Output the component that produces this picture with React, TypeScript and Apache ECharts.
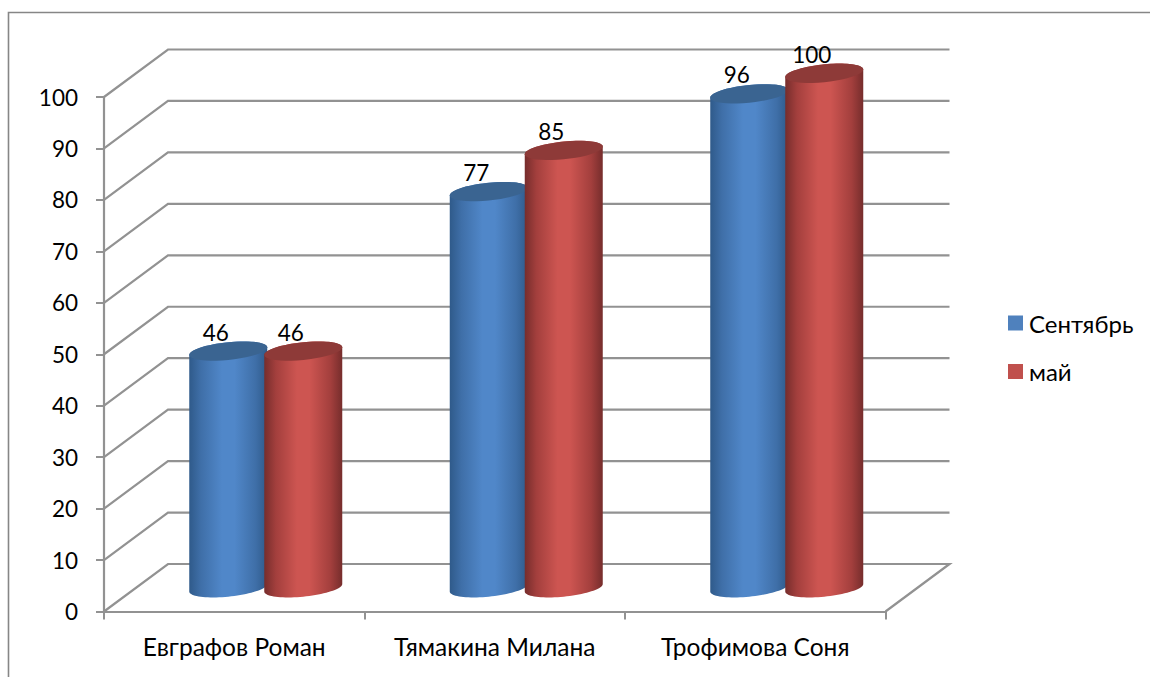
import React, { useEffect, useRef } from "react";
import * as echarts from "echarts";

const categories = ["Евграфов Роман", "Тямакина Милана", "Трофимова Соня"];
const september = [46, 77, 96];
const may = [46, 85, 100];
const gridValues = [0, 10, 20, 30, 40, 50, 60, 70, 80, 90, 100];

const FONT = "Lato, Carlito, 'Open Sans', sans-serif";
const DEPTH_X = 64;
const DEPTH_Y = -47.5;
const GRAY = "#929292";
const R = 39;
const SHEAR = 3.8;
const MINOR = 8.9;

function ellipsePts(cx: number, cy: number, from: number, to: number) {
  const pts: number[][] = [];
  const n = 40;
  for (let i = 0; i <= n; i++) {
    const t = from + ((to - from) * i) / n;
    pts.push([cx + R * Math.cos(t), cy - SHEAR * Math.cos(t) + MINOR * Math.sin(t)]);
  }
  return pts;
}

function cylinder(offset: number, stops: string[], topColor: string) {
  return (params: any, api: any) => {
    const cat = api.value(0);
    const v = api.value(1);
    const top = api.coord([cat, v]);
    const base = api.coord([cat, 0]);
    const cx = top[0] + DEPTH_X / 2 + offset;
    const topY = top[1] + DEPTH_Y / 2;
    const baseY = base[1] + DEPTH_Y / 2;
    const body = [
      ...ellipsePts(cx, baseY, Math.PI, 0),
      ...ellipsePts(cx, topY, 0, -Math.PI),
    ];
    return {
      type: "group",
      children: [
        {
          type: "polygon",
          shape: { points: body },
          style: {
            fill: new echarts.graphic.LinearGradient(0, 0, 1, 0, [
              { offset: 0, color: stops[0] },
              { offset: 0.15, color: stops[1] },
              { offset: 0.42, color: stops[2] },
              { offset: 0.58, color: stops[2] },
              { offset: 0.85, color: stops[1] },
              { offset: 1, color: stops[0] },
            ]),
          },
        },
        {
          type: "polygon",
          shape: { points: ellipsePts(cx, topY, 0, Math.PI * 2) },
          style: { fill: topColor },
        },
        {
          type: "text",
          z2: 50,
          style: {
            text: String(v),
            x: cx - 12.5,
            y: topY - 19,
            fill: "#000",
            font: `22.5px ${FONT}`,
            align: "center",
            verticalAlign: "middle",
          },
        },
      ],
    };
  };
}

function gridLine(params: any, api: any) {
  const v = api.value(1);
  const cs = params.coordSys;
  const y = api.coord([0, v])[1];
  const pts = [
    [cs.x, y],
    [cs.x + DEPTH_X, y + DEPTH_Y],
    [cs.x + cs.width + DEPTH_X, y + DEPTH_Y],
  ];
  if (v === 0) pts.push([cs.x + cs.width, y]);
  return {
    type: "polyline",
    shape: { points: pts },
    style: { stroke: GRAY, lineWidth: 2.2, fill: "none" },
  };
}

export default function App() {
  const ref = useRef<HTMLDivElement>(null);
  useEffect(() => {
    document.body.style.margin = "0";
    const chart = echarts.init(ref.current!, undefined, { renderer: "svg" });
    chart.setOption({
      animation: false,
      backgroundColor: "#fff",
      textStyle: { fontFamily: FONT },
      grid: { left: 104, top: 97, width: 781.5, height: 514.5 },
      xAxis: {
        type: "category",
        data: categories,
        axisLine: { lineStyle: { color: GRAY, width: 2.2 } },
        axisTick: { show: true, interval: 0, length: 8, lineStyle: { color: GRAY, width: 2 } },
        axisLabel: { color: "#000", fontSize: 24.5, fontFamily: FONT, margin: 22, interval: 0, hideOverlap: false },
        splitLine: { show: false },
      },
      yAxis: {
        type: "value",
        min: 0,
        max: 100,
        interval: 10,
        axisLine: { show: true, lineStyle: { color: GRAY, width: 2.2 } },
        axisTick: { show: true, length: 8, lineStyle: { color: GRAY, width: 2 } },
        axisLabel: { color: "#000", fontSize: 22.5, fontFamily: FONT, margin: 26 },
        splitLine: { show: false },
      },
      legend: {
        left: 1008,
        top: 311,
        padding: 0,
        orient: "vertical",
        itemWidth: 15,
        itemHeight: 15,
        itemGap: 24.5,
        icon: "rect",
        data: ["Сентябрь", "май"],
        textStyle: { color: "#000", fontSize: 24, fontFamily: FONT, padding: [0, 0, 0, 1] },
      },
      graphic: [
        {
          type: "polyline",
          shape: { points: [[8.5, 677], [8.5, 12.5], [1150, 12.5]] },
          style: { stroke: "#868686", lineWidth: 1.6, fill: "none" },
        },
      ],
      series: [
        {
          type: "custom",
          name: "grid",
          z: 1,
          clip: false,
          silent: true,
          renderItem: gridLine,
          data: gridValues.map((v) => [0, v]),
        },
        {
          type: "custom",
          name: "Сентябрь",
          z: 3,
          clip: false,
          itemStyle: { color: "#4f81bd" },
          renderItem: cylinder(-38, ["#2f5a8a", "#3f6fa8", "#5087c9"], "#3a6491"),
          data: september.map((v, i) => [i, v]),
        },
        {
          type: "custom",
          name: "май",
          z: 4,
          clip: false,
          itemStyle: { color: "#c0504d" },
          renderItem: cylinder(37, ["#762d2c", "#a33f3d", "#cd5551"], "#8e3a38"),
          data: may.map((v, i) => [i, v]),
        },
      ],
    });
    return () => chart.dispose();
  }, []);
  return <div ref={ref} style={{ position: "absolute", left: 0, top: 0, width: 1150, height: 677 }} />;
}
